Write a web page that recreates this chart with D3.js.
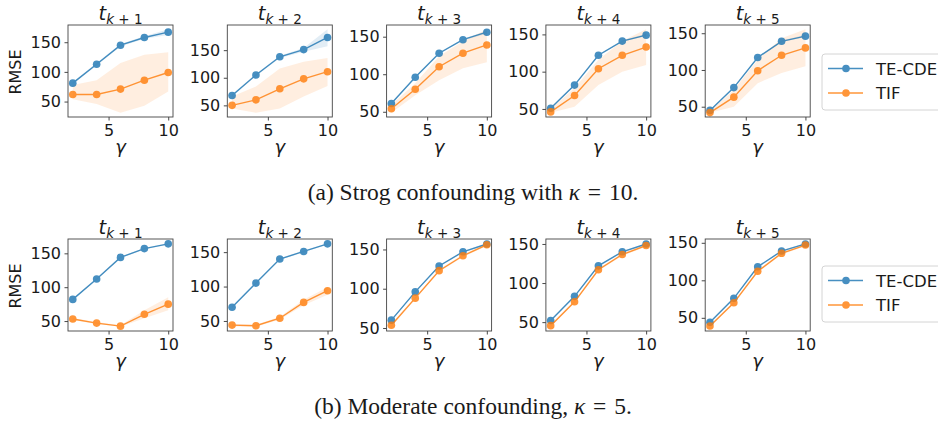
<!DOCTYPE html>
<html lang="en">
<head>
  <meta charset="UTF-8">
  <title>RMSE vs gamma</title>
  <style>
    body { margin: 0; background: white; }
    svg text { font-family: "DejaVu Sans", sans-serif; fill: #1a1a1a; }
  </style>
</head>
<body>

  <svg id="svg" width="938" height="421"></svg>

  <script src="https://d3js.org/d3.v7.min.js"></script>
  <script>
    const gammas = [2, 4, 6, 8, 10]
    const horizons = ['1', '2', '3', '4', '5']
    const seriesNames = ['TE-CDE', 'TIF']
    const xTicks = [5, 10]
    const yTicks = [50, 100, 150]

    // (a) strong confounding, kappa = 10 -- one row per horizon t_{k+1}..t_{k+5}
    const teStrong = [
      [81, 113, 145, 158, 167],
      [68, 105, 138, 151, 173],
      [61, 96, 128, 146, 156],
      [51, 82, 122, 141, 149],
      [45, 76, 117, 139, 146]
    ]
    const teStrongLo = [
      [79, 111, 143, 156, 162],
      [66, 103, 136, 147, 157],
      [60, 95, 127, 145, 154],
      [50, 81, 121, 140, 148],
      [44, 75, 116, 138, 145]
    ]
    const teStrongHi = [
      [83, 115, 147, 160, 172],
      [70, 107, 140, 154, 188],
      [62, 97, 129, 147, 158],
      [52, 83, 123, 142, 151],
      [46, 77, 118, 140, 148]
    ]
    const tifStrong = [
      [62, 62, 71, 86, 99],
      [50, 60, 80, 98, 111],
      [54, 80, 110, 128, 139],
      [46, 68, 104, 122, 133],
      [42, 63, 99, 120, 130]
    ]
    const tifStrongLo = [
      [54, 46, 31, 43, 67],
      [44.5, 36.5, 44.5, 66, 85],
      [48.6, 72, 92, 108, 116],
      [44.8, 53, 82, 100, 109],
      [41.7, 50, 82, 96, 105]
    ]
    const tifStrongHi = [
      [78, 86, 115, 129, 133],
      [66, 84, 117, 129, 136],
      [59, 88, 124, 144, 160],
      [50, 78, 116, 141, 157],
      [44, 73, 114, 143, 155.5]
    ]

    // (b) moderate confounding, kappa = 5
    const teMod = [
      [82, 112, 144, 157, 164],
      [70, 105, 140, 151, 162],
      [60, 96, 129, 147, 157],
      [52, 83, 122, 140, 150],
      [44, 76, 118, 139, 148.5]
    ]
    const teModLo = [
      [81, 111, 143, 156, 163],
      [69, 104, 139, 150, 161],
      [59, 95, 128, 146, 156],
      [51, 82, 121, 139, 149],
      [43, 75, 117, 138, 147.5]
    ]
    const teModHi = [
      [83, 113, 145, 158, 165],
      [71, 106, 141, 152, 163],
      [61, 97, 130, 148, 158],
      [53, 84, 123, 141, 151],
      [45, 77, 119, 140, 149.5]
    ]
    const tifMod = [
      [53, 47, 42.5, 60, 75],
      [44, 43, 54, 77, 94],
      [53.5, 88, 123, 142, 156],
      [45.5, 76, 117, 136.5, 148],
      [39, 70, 112, 136, 147]
    ]
    const tifModLo = [
      [51.5, 45.5, 41.5, 54, 66],
      [42, 41.5, 52, 73, 88],
      [51.5, 86.5, 121.5, 140.5, 154.5],
      [44, 74.5, 115.5, 135, 146.5],
      [38, 68.5, 110.5, 134.5, 145.5]
    ]
    const tifModHi = [
      [54.5, 48.5, 44, 66, 85],
      [45.5, 44.5, 56, 81, 99],
      [55.5, 89.5, 124.5, 143.5, 157.5],
      [47, 77.5, 118.5, 138, 149.5],
      [40, 71.5, 113.5, 137.5, 148.5]
    ]

    const captions = [
      ['(a) Strog confounding with ', 'κ', '\u2004=\u200410.'],
      ['(b) Moderate confounding, ', 'κ', '\u2004=\u20045.']
    ]

    const rows = [
      { series: [[teStrong, teStrongLo, teStrongHi], [tifStrong, tifStrongLo, tifStrongHi]] },
      { series: [[teMod, teModLo, teModHi], [tifMod, tifModLo, tifModHi]] }
    ]

    // layout
    const colors = ['#1f77b4', '#ff7f0e']
    const panelW = 105, panelH = 92
    const panelX = d3.range(5).map(i => 68 + i * 159.3)
    const rowTop = [25, 239]
    const legendTop = [54, 266]
    const captionY = [199.5, 413.5]

    const svg = d3.select('#svg').style('background-color', 'white')

    rows.forEach((row, r) => {
      horizons.forEach((h, c) => {
        const g = svg.append('g')
          .attr('transform', `translate(${panelX[c]},${rowTop[r]})`)

        const xPad = (d3.max(gammas) - d3.min(gammas)) * 0.05
        const x = d3.scaleLinear()
          .domain([d3.min(gammas) - xPad, d3.max(gammas) + xPad])
          .range([0, panelW])

        const allVals = row.series.flatMap(s => s.flatMap(arr => arr[c]))
        const [lo, hi] = d3.extent(allVals)
        const yPad = (hi - lo) * 0.05
        const y = d3.scaleLinear()
          .domain([lo - yPad, hi + yPad])
          .range([panelH, 0])

        // bands first
        row.series.forEach((s, k) => {
          const pts = gammas.map((gm, i) => ({ g: gm, lo: s[1][c][i], hi: s[2][c][i] }))
          g.append('path')
            .datum(pts)
            .attr('d', d3.area().x(d => x(d.g)).y0(d => y(d.lo)).y1(d => y(d.hi)))
            .attr('fill', colors[k])
            .attr('opacity', 0.13)
        })

        row.series.forEach((s, k) => {
          const pts = gammas.map((gm, i) => ({ g: gm, v: s[0][c][i] }))
          const sg = g.append('g').attr('opacity', 0.82)
          sg.append('path')
            .datum(pts)
            .attr('d', d3.line().x(d => x(d.g)).y(d => y(d.v)))
            .attr('fill', 'none')
            .attr('stroke', colors[k])
            .attr('stroke-width', 1.4)
          sg.selectAll('circle')
            .data(pts)
            .enter()
            .append('circle')
            .attr('cx', d => x(d.g))
            .attr('cy', d => y(d.v))
            .attr('r', 3.8)
            .attr('fill', colors[k])
        })

        // axes
        const yAxis = g.append('g')
          .call(d3.axisLeft(y)
            .tickValues(yTicks.filter(t => t >= y.domain()[0] && t <= y.domain()[1]))
            .tickSize(3.5).tickPadding(3.5))
        const xAxis = g.append('g')
          .attr('transform', `translate(0,${panelH})`)
          .call(d3.axisBottom(x).tickValues(xTicks).tickSize(3.5).tickPadding(4.5))
        ;[yAxis, xAxis].forEach(a => {
          a.select('.domain').remove()
          a.selectAll('line').attr('stroke', '#333').attr('stroke-width', 0.9)
          a.selectAll('text')
            .style('font-family', '"DejaVu Sans", sans-serif')
            .style('font-size', '16px')
            .attr('fill', '#1a1a1a')
        })

        g.append('rect')
          .attr('width', panelW).attr('height', panelH)
          .attr('fill', 'none')
          .attr('stroke', '#444')
          .attr('stroke-width', 0.9)

        // title t_{k+h}
        const title = g.append('text')
          .attr('x', panelW / 2)
          .attr('y', -5)
          .attr('text-anchor', 'middle')
          .style('font-size', '19.5px')
        title.append('tspan').attr('font-style', 'italic').text('t')
        title.append('tspan').attr('font-style', 'italic').attr('font-size', '13.5px').attr('dy', 3.5).text('k')
        title.append('tspan').attr('font-size', '13.5px').text(' + ' + h)

        g.append('text')
          .attr('x', panelW / 2)
          .attr('y', panelH + 36)
          .attr('text-anchor', 'middle')
          .attr('font-style', 'italic')
          .style('font-size', '18px')
          .text('γ')

        if (c === 0) {
          g.append('text')
            .attr('transform', `translate(${21 - panelX[0]},${panelH / 2 + 1}) rotate(-90)`)
            .attr('text-anchor', 'middle')
            .style('font-size', '16px')
            .text('RMSE')
        }
      })

      // legend
      const lg = svg.append('g').attr('transform', `translate(822,${legendTop[r]})`)
      lg.append('rect')
        .attr('width', 140).attr('height', 56)
        .attr('rx', 3)
        .attr('fill', 'white')
        .attr('stroke', '#d4d4d4')
        .attr('stroke-width', 1)
      seriesNames.forEach((name, k) => {
        const yy = 14.5 + k * 24.5
        const it = lg.append('g').attr('opacity', 0.82)
        it.append('line')
          .attr('x1', 6).attr('x2', 41).attr('y1', yy).attr('y2', yy)
          .attr('stroke', colors[k]).attr('stroke-width', 1.4)
        it.append('circle')
          .attr('cx', 24).attr('cy', yy).attr('r', 3.8)
          .attr('fill', colors[k])
        lg.append('text')
          .attr('x', 54).attr('y', yy + 6)
          .style('font-size', '16.5px')
          .text(name)
      })

      // caption
      const cap = svg.append('text')
        .attr('x', 473)
        .attr('y', captionY[r])
        .attr('text-anchor', 'middle')
        .style('font-family', '"Liberation Serif", "Times New Roman", serif')
        .style('font-size', '23.5px')
      cap.append('tspan').text(captions[r][0])
      cap.append('tspan').attr('font-style', 'italic').text(captions[r][1])
      cap.append('tspan').text(captions[r][2])
    })
  </script>
</body>
</html>
